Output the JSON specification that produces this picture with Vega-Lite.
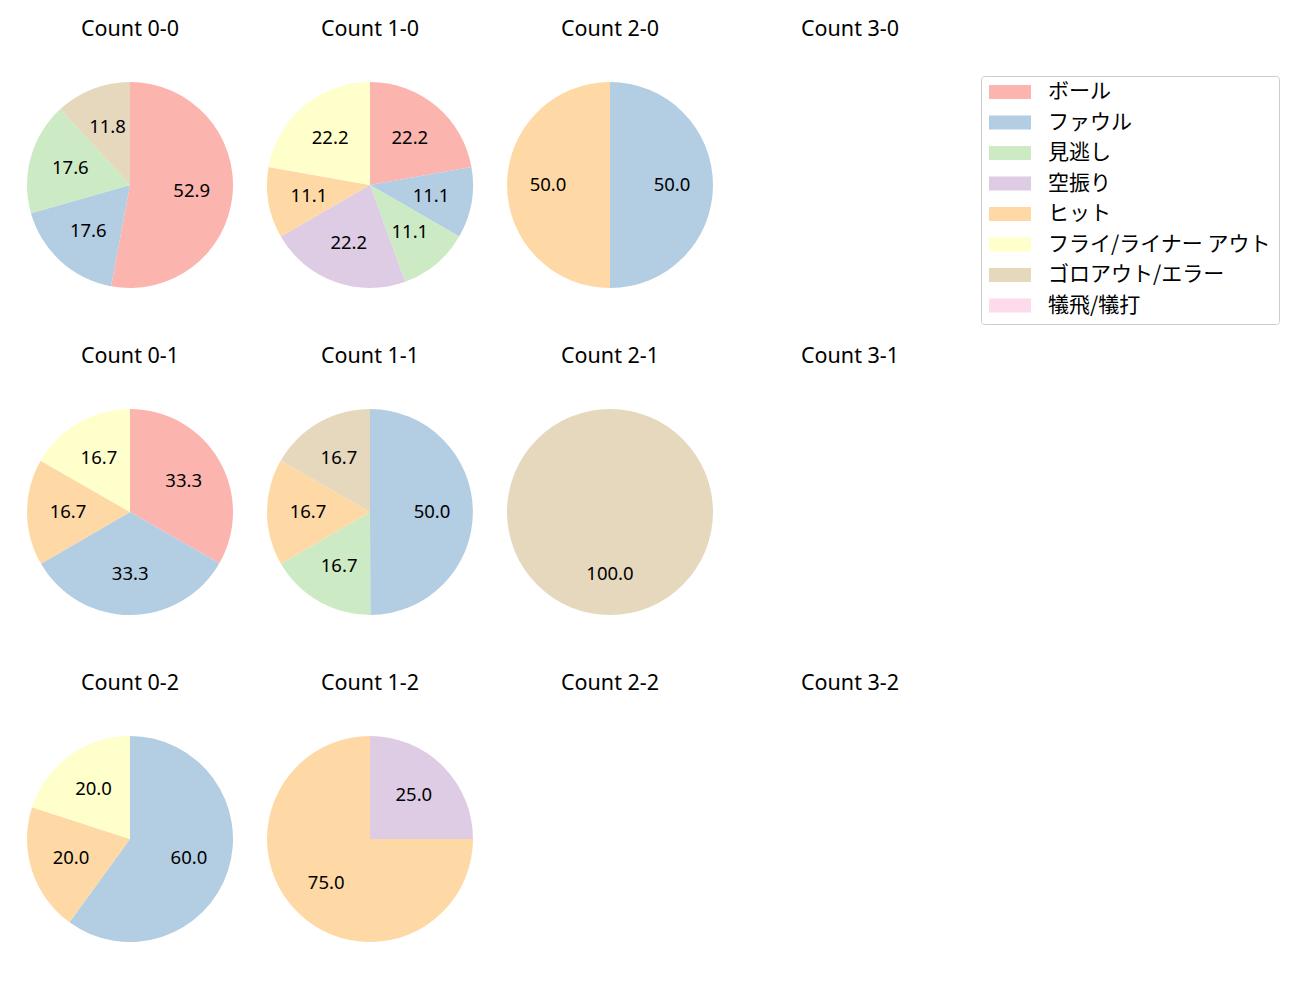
{
  "$schema": "https://vega.github.io/schema/vega-lite/v6.json",
  "padding": {"left": 27, "top": 18, "right": 5, "bottom": 5},
  "data": {"values": [
    {"count": "Count 0-0", "type": "ボール", "i": 0, "pct": 52.9},
    {"count": "Count 0-0", "type": "ファウル", "i": 1, "pct": 17.6},
    {"count": "Count 0-0", "type": "見逃し", "i": 2, "pct": 17.6},
    {"count": "Count 0-0", "type": "ゴロアウト/エラー", "i": 6, "pct": 11.8},
    {"count": "Count 1-0", "type": "ボール", "i": 0, "pct": 22.2},
    {"count": "Count 1-0", "type": "ファウル", "i": 1, "pct": 11.1},
    {"count": "Count 1-0", "type": "見逃し", "i": 2, "pct": 11.1},
    {"count": "Count 1-0", "type": "空振り", "i": 3, "pct": 22.2},
    {"count": "Count 1-0", "type": "ヒット", "i": 4, "pct": 11.1},
    {"count": "Count 1-0", "type": "フライ/ライナー アウト", "i": 5, "pct": 22.2},
    {"count": "Count 2-0", "type": "ファウル", "i": 1, "pct": 50.0},
    {"count": "Count 2-0", "type": "ヒット", "i": 4, "pct": 50.0},
    {"count": "Count 3-0", "type": "ボール", "i": 0, "pct": 0},
    {"count": "Count 0-1", "type": "ボール", "i": 0, "pct": 33.3},
    {"count": "Count 0-1", "type": "ファウル", "i": 1, "pct": 33.3},
    {"count": "Count 0-1", "type": "ヒット", "i": 4, "pct": 16.7},
    {"count": "Count 0-1", "type": "フライ/ライナー アウト", "i": 5, "pct": 16.7},
    {"count": "Count 1-1", "type": "ファウル", "i": 1, "pct": 50.0},
    {"count": "Count 1-1", "type": "見逃し", "i": 2, "pct": 16.7},
    {"count": "Count 1-1", "type": "ヒット", "i": 4, "pct": 16.7},
    {"count": "Count 1-1", "type": "ゴロアウト/エラー", "i": 6, "pct": 16.7},
    {"count": "Count 2-1", "type": "ゴロアウト/エラー", "i": 6, "pct": 100.0},
    {"count": "Count 3-1", "type": "ボール", "i": 0, "pct": 0},
    {"count": "Count 0-2", "type": "ファウル", "i": 1, "pct": 60.0},
    {"count": "Count 0-2", "type": "ヒット", "i": 4, "pct": 20.0},
    {"count": "Count 0-2", "type": "フライ/ライナー アウト", "i": 5, "pct": 20.0},
    {"count": "Count 1-2", "type": "空振り", "i": 3, "pct": 25.0},
    {"count": "Count 1-2", "type": "ヒット", "i": 4, "pct": 75.0},
    {"count": "Count 2-2", "type": "ボール", "i": 0, "pct": 0},
    {"count": "Count 3-2", "type": "ボール", "i": 0, "pct": 0}
  ]},
  "facet": {
    "field": "count",
    "type": "nominal",
    "sort": ["Count 0-0", "Count 1-0", "Count 2-0", "Count 3-0", "Count 0-1", "Count 1-1", "Count 2-1", "Count 3-1", "Count 0-2", "Count 1-2", "Count 2-2", "Count 3-2"],
    "header": {"title": null, "labelFontSize": 21.5, "labelFont": "Noto Sans", "labelColor": "black", "labelPadding": 42}
  },
  "columns": 4,
  "spacing": {"column": 34, "row": 57},
  "spec": {
    "width": 206,
    "height": 206,
    "layer": [
      {
        "mark": {"type": "arc"},
        "encoding": {
          "theta": {"field": "pct", "type": "quantitative", "stack": "normalize"},
          "order": {"field": "i", "type": "quantitative"},
          "opacity": {"condition": {"test": "datum.pct > 0", "value": 1}, "value": 0},
          "color": {
            "field": "type", "type": "nominal",
            "scale": {
              "domain": ["ボール", "ファウル", "見逃し", "空振り", "ヒット", "フライ/ライナー アウト", "ゴロアウト/エラー", "犠飛/犠打"],
              "range": ["#fbb4ae", "#b3cde3", "#ccebc5", "#decbe4", "#fed9a6", "#ffffcc", "#e5d8bd", "#fddaec"]
            },
            "legend": {
              "title": null,
              "orient": "none",
              "legendX": 954,
              "legendY": -6,
              "symbolType": "M-1,-0.333H1V0.333H-1Z",
              "symbolSize": 1764,
              "symbolStrokeWidth": 0,
              "symbolOpacity": 1,
              "clipHeight": 16,
              "rowPadding": 9.5,
              "labelFont": "Noto Sans CJK JP",
              "labelFontSize": 21,
              "labelLimit": 400,
              "labelColor": "black",
              "labelOffset": 17,
              "padding": 8,
              "strokeColor": "#cccccc",
              "cornerRadius": 3,
              "fillColor": "white"
            }
          }
        }
      },
      {
        "mark": {"type": "text", "radius": 62, "font": "Noto Sans", "fontSize": 18.5, "color": "black"},
        "encoding": {
          "theta": {"field": "pct", "type": "quantitative", "stack": "normalize"},
          "order": {"field": "i", "type": "quantitative"},
          "opacity": {"condition": {"test": "datum.pct > 0", "value": 1}, "value": 0},
          "text": {"field": "pct", "type": "quantitative", "format": ".1f"}
        }
      }
    ]
  },
  "config": {"view": {"stroke": null}}
}
